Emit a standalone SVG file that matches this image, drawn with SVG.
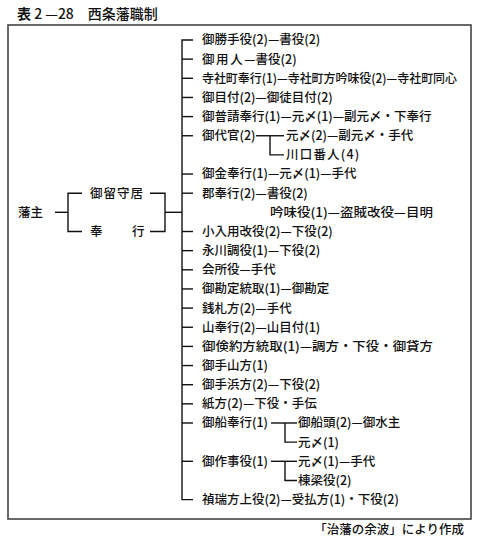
<svg xmlns="http://www.w3.org/2000/svg" width="480" height="549" viewBox="0 0 480 549">
<style>
text{font-family:"Noto Sans CJK JP","Noto Sans",sans-serif;font-size:12.5px;font-weight:500;fill:#111}
.t{font-size:14px}
.b{font-weight:bold}
.cap{font-size:12.5px}
line,path{stroke:#111;stroke-width:1.4;fill:none}
.frame{stroke:#444;stroke-width:1.6;fill:none}
</style>
<rect width="480" height="549" fill="#fff"/>
<text class="t" x="17" y="19"><tspan class="b">表</tspan> 2 —28　西条藩職制</text>
<rect class="frame" x="8" y="25" width="463" height="494"/>
<g id="connectors">
<line x1="55" y1="212.3" x2="68" y2="212.3"/>
<path d="M82 193.2H68V231.5H82"/>
<path d="M150 193.2H165V231.5H150"/>
<line x1="165" y1="212.3" x2="182" y2="212.3"/>
<path d="M193 40H182V499.6H193"/>
<line x1="182" y1="59.15" x2="193" y2="59.15"/>
<line x1="182" y1="78.3" x2="193" y2="78.3"/>
<line x1="182" y1="97.45" x2="193" y2="97.45"/>
<line x1="182" y1="116.6" x2="193" y2="116.6"/>
<line x1="182" y1="135.75" x2="193" y2="135.75"/>
<line x1="182" y1="174.05" x2="193" y2="174.05"/>
<line x1="182" y1="193.2" x2="193" y2="193.2"/>
<line x1="182" y1="231.5" x2="193" y2="231.5"/>
<line x1="182" y1="250.65" x2="193" y2="250.65"/>
<line x1="182" y1="269.8" x2="193" y2="269.8"/>
<line x1="182" y1="288.95" x2="193" y2="288.95"/>
<line x1="182" y1="308.1" x2="193" y2="308.1"/>
<line x1="182" y1="327.25" x2="193" y2="327.25"/>
<line x1="182" y1="346.4" x2="193" y2="346.4"/>
<line x1="182" y1="365.55" x2="193" y2="365.55"/>
<line x1="182" y1="384.7" x2="193" y2="384.7"/>
<line x1="182" y1="403.85" x2="193" y2="403.85"/>
<line x1="182" y1="423" x2="193" y2="423"/>
<line x1="182" y1="461.3" x2="193" y2="461.3"/>
<line x1="256" y1="135.75" x2="284" y2="135.75"/>
<path d="M270 135.75V154.9H284"/>
<line x1="271" y1="423" x2="297" y2="423"/>
<path d="M285 423V442.15H297"/>
<line x1="271" y1="461.3" x2="297" y2="461.3"/>
<path d="M285 461.3V480.45H297"/>
</g>
<g id="hanshu"><text x="18" y="217">藩主</text></g>
<g id="orusui"><text x="90" y="197.6" letter-spacing="1">御留守居</text></g>
<g id="bugyo"><text x="90" y="235.9">奉</text><text x="132" y="235.9">行</text></g>
<g id="r0"><text x="202" y="44.4">御勝手役(2)—書役(2)</text></g>
<g id="r1"><text x="202" y="63.5"><tspan letter-spacing="1.6">御用人</tspan>—書役(2)</text></g>
<g id="r2"><text x="202" y="82.7" textLength="255" lengthAdjust="spacingAndGlyphs">寺社町奉行(1)—寺社町方吟味役(2)—寺社町同心</text></g>
<g id="r3"><text x="202" y="101.8">御目付(2)—御徒目付(2)</text></g>
<g id="r4"><text x="202" y="121">御普請奉行(1)—元〆(1)—副元〆・下奉行</text></g>
<g id="r5"><text x="202" y="140.1">御代官(2)</text></g>
<g id="r5a"><text x="286" y="140.1">元〆(2)—副元〆・手代</text></g>
<g id="r6"><text x="286" y="159.3" letter-spacing="1.2">川口番人(4)</text></g>
<g id="r7"><text x="202" y="178.4">御金奉行(1)—元〆(1)—手代</text></g>
<g id="r8"><text x="202" y="197.6">郡奉行(2)—書役(2)</text></g>
<g id="r9"><text x="270" y="216.7" textLength="163" lengthAdjust="spacingAndGlyphs">吟味役(1)—盗賊改役—目明</text></g>
<g id="r10"><text x="202" y="235.9">小入用改役(2)—下役(2)</text></g>
<g id="r11"><text x="202" y="255">永川調役(1)—下役(2)</text></g>
<g id="r12"><text x="202" y="274.2">会所役—手代</text></g>
<g id="r13"><text x="202" y="293.3">御勘定統取(1)—御勘定</text></g>
<g id="r14"><text x="202" y="312.5">銭札方(2)—手代</text></g>
<g id="r15"><text x="202" y="331.6">山奉行(2)—山目付(1)</text></g>
<g id="r16"><text x="202" y="350.8" textLength="231" lengthAdjust="spacingAndGlyphs">御倹約方統取(1)—調方・下役・御貸方</text></g>
<g id="r17"><text x="202" y="369.9">御手山方(1)</text></g>
<g id="r18"><text x="202" y="389.1">御手浜方(2)—下役(2)</text></g>
<g id="r19"><text x="202" y="408.2">紙方(2)—下役・手伝</text></g>
<g id="r20"><text x="202" y="427.4">御船奉行(1)</text></g>
<g id="r20a"><text x="298" y="427.4">御船頭(2)—御水主</text></g>
<g id="r21"><text x="298" y="446.5">元〆(1)</text></g>
<g id="r22"><text x="202" y="465.7">御作事役(1)</text></g>
<g id="r22a"><text x="298" y="465.7">元〆(1)—手代</text></g>
<g id="r23"><text x="298" y="484.8">棟梁役(2)</text></g>
<g id="r24"><text x="202" y="504">禎瑞方上役(2)—受払方(1)・下役(2)</text></g>
<text class="cap" x="464" y="534" text-anchor="end">「治藩の余波」により作成</text>
</svg>
